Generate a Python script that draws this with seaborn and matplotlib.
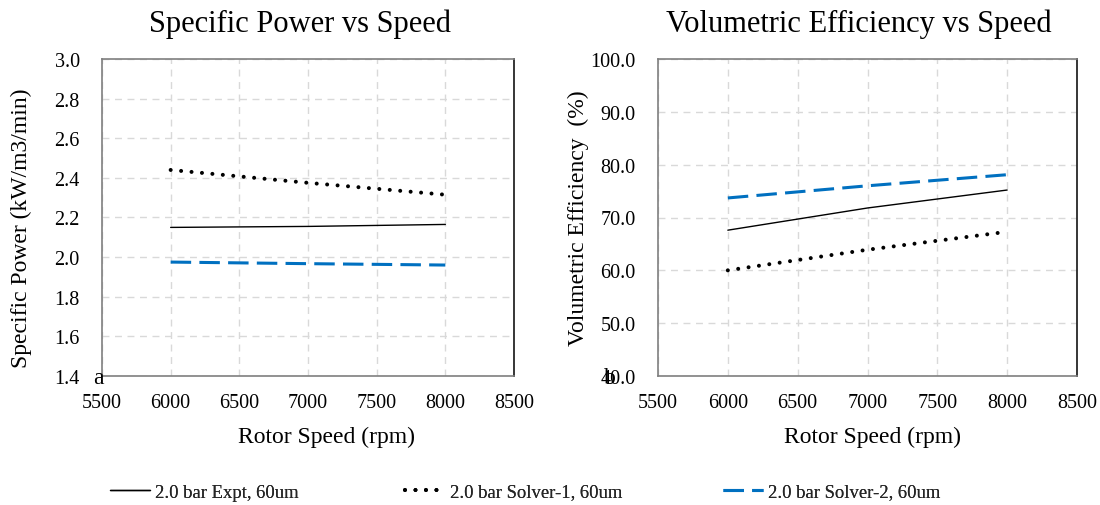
import matplotlib
matplotlib.use("Agg")
import matplotlib.pyplot as plt
import seaborn as sns
import pandas as pd

# ---- data ----
speed = [6000, 7000, 8000]
sp_expt = [2.15, 2.155, 2.165]
sp_solver1 = [2.44, 2.375, 2.315]
sp_solver2 = [1.975, 1.967, 1.96]
ve_expt = [67.6, 71.8, 75.2]
ve_solver1 = [60.0, 63.9, 67.3]
ve_solver2 = [73.7, 76.0, 78.1]
series_names = ["2.0 bar Expt, 60um", "2.0 bar Solver-1, 60um", "2.0 bar Solver-2, 60um"]
x_ticks = [5500, 6000, 6500, 7000, 7500, 8000, 8500]
sp_ticks = [1.4, 1.6, 1.8, 2.0, 2.2, 2.4, 2.6, 2.8, 3.0]
ve_ticks = [40.0, 50.0, 60.0, 70.0, 80.0, 90.0, 100.0]

sns.set_theme(style="white")
plt.rcParams['font.family'] = ['Liberation Serif', 'DejaVu Serif']

fig = plt.figure(figsize=(11, 5.06), dpi=100)
ax1 = fig.add_axes([102/1100, 1-377/506, (514-102)/1100, (377-60)/506])
ax2 = fig.add_axes([658/1100, 1-377/506, (1077-658)/1100, (377-60)/506])

styles = [
    dict(color="black", linewidth=1.0, linestyle="-"),
    dict(color="black", linewidth=2.9, linestyle=(0, (0.001, 2.6)), dash_capstyle="round"),
    dict(color="#0070C0", linewidth=2.2, linestyle=(0, (6.7, 2.7)), dash_capstyle="butt"),
]

def draw(ax, ys, ticks, ylim, fmt, title, ylabel, title_x, ylabelpad, xlabel_x):
    for y, name, st in zip(ys, series_names, styles):
        df = pd.DataFrame({"speed": speed, "val": y})
        sns.lineplot(data=df, x="speed", y="val", ax=ax, label=name, **st)
    ax.set_xlim(5500, 8500)
    ax.set_ylim(*ylim)
    ax.set_xticks(x_ticks)
    ax.set_xticklabels([str(t) for t in x_ticks])
    ax.set_yticks(ticks)
    ax.set_yticklabels([fmt.format(t) for t in ticks])
    ax.grid(True, color="#d9d9d9", linestyle=(0, (5, 4)), linewidth=1.0)
    ax.tick_params(axis="both", length=0, labelsize=14.5, labelcolor="black")
    ax.tick_params(axis="x", pad=12)
    ax.tick_params(axis="y", pad=16)
    for s in ["left", "bottom", "top"]:
        ax.spines[s].set_color("#7f7f7f")
        ax.spines[s].set_linewidth(1.2)
    ax.spines["right"].set_color("#262626")
    ax.spines["right"].set_linewidth(1.3)
    ax.set_title(title, fontsize=22, pad=20, color="black", x=title_x)
    ax.set_xlabel("Rotor Speed (rpm)", fontsize=17, labelpad=10, color="black")
    ax.xaxis.label.set_x(xlabel_x)
    ax.set_ylabel(ylabel, fontsize=17, labelpad=ylabelpad, color="black")
    ax.get_legend().remove()

draw(ax1, [sp_expt, sp_solver1, sp_solver2], sp_ticks, (1.4, 3.0), "{:.1f}",
     "Specific Power vs Speed", "Specific Power (kW/m3/min)",
     0.5 - 8/412, 16, 0.5 + 18/412)
draw(ax2, [ve_expt, ve_solver1, ve_solver2], ve_ticks, (40, 100), "{:.1f}",
     "Volumetric Efficiency vs Speed", "Volumetric Efficiency  (%)",
     0.5 - 9/419, 1, 0.5 + 5/419)
ax1.yaxis.label.set_y(0.47)

fig.text(93/1100, 1-384/506, "a", fontsize=17, color="black")
fig.text(604/1100, 1-384/506, "b", fontsize=17, color="black")

handles = ax1.get_lines()[:3]
legend_x = [110, 405, 723]
for h, name, lx in zip(handles, series_names, legend_x):
    leg = fig.legend([h], [name], loc="center left", bbox_to_anchor=(lx/1100, 1-493/506),
                     frameon=False, fontsize=13.4, handlelength=2.15, handletextpad=0.27,
                     borderpad=0, borderaxespad=0)
    fig.add_artist(leg)

fig.savefig("out.png", dpi=100, facecolor="white")
